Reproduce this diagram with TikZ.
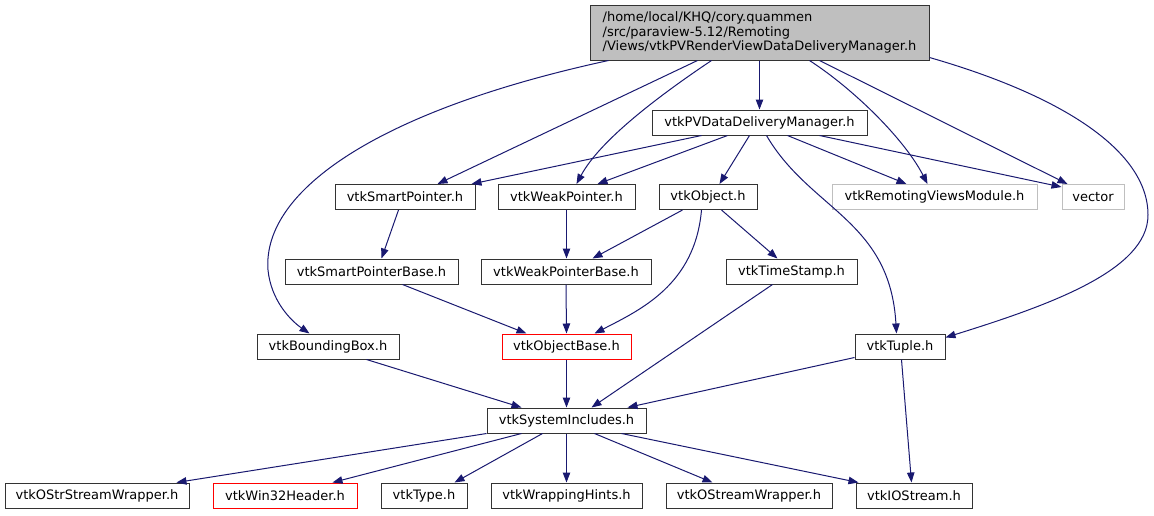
\documentclass[tikz,border=0pt]{standalone}
\usepackage{fontspec}
\setmainfont{DejaVu Sans}
\usetikzlibrary{arrows.meta,calc}
\definecolor{edgeblue}{HTML}{191970}
\definecolor{nodegrey}{HTML}{BFBFBF}
\definecolor{nodered}{HTML}{FF0000}
\definecolor{nodeborder}{HTML}{333333}
\begin{document}
\begin{tikzpicture}[x=0.75pt,y=-0.75pt,
  font=\fontsize{9.75}{10.9}\selectfont,
  box/.style={draw=nodeborder, line width=0.75pt, minimum height=18.75pt, inner sep=0pt, fill=white},
  greybox/.style={box, draw=nodegrey},
  redbox/.style={box, draw=nodered},
  edge/.style={draw=edgeblue, line width=0.75pt, -{Triangle[length=7.5pt,width=5.6pt]}}]
\useasboundingbox (0,0) rectangle (1154,515);
% nodes
\node[box, fill=nodegrey, minimum width=254.25pt, minimum height=41.25pt, align=left] (root) at (759.5,32.5)
  {/home/local/KHQ/cory.quammen\\/src/paraview-5.12/Remoting\\/Views/vtkPVRenderViewDataDeliveryManager.h};
\node[box, minimum width=161.25pt] (pvdm) at (759.5,122.5) {vtkPVDataDeliveryManager.h};
\node[box, minimum width=105pt] (sp) at (405,197) {vtkSmartPointer.h};
\node[box, minimum width=102.75pt] (wp) at (566.5,197) {vtkWeakPointer.h};
\node[box, minimum width=73.5pt] (obj) at (708,197) {vtkObject.h};
\node[greybox, minimum width=153.75pt] (rvm) at (934.5,197) {vtkRemotingViewsModule.h};
\node[greybox, minimum width=46.5pt] (vec) at (1093,197) {vector};
\node[box, minimum width=129.75pt] (spb) at (371.5,271.5) {vtkSmartPointerBase.h};
\node[box, minimum width=127.5pt] (wpb) at (566,271.5) {vtkWeakPointerBase.h};
\node[box, minimum width=98.25pt] (ts) at (791.5,271.5) {vtkTimeStamp.h};
\node[box, minimum width=106.5pt] (bb) at (328,346.5) {vtkBoundingBox.h};
\node[redbox, minimum width=96.75pt] (ob) at (566.5,346.5) {vtkObjectBase.h};
\node[box, minimum width=67.5pt] (tup) at (900,346.5) {vtkTuple.h};
\node[box, minimum width=119.25pt] (si) at (566.5,420.5) {vtkSystemIncludes.h};
\node[box, minimum width=138pt] (ostr) at (97,495.5) {vtkOStrStreamWrapper.h};
\node[redbox, minimum width=108pt] (win) at (285,495.5) {vtkWin32Header.h};
\node[box, minimum width=64.5pt] (type) at (424,495.5) {vtkType.h};
\node[box, minimum width=113.25pt] (wh) at (566.5,495.5) {vtkWrappingHints.h};
\node[box, minimum width=124.5pt] (osw) at (749,495.5) {vtkOStreamWrapper.h};
\node[box, minimum width=87pt] (ios) at (914,495.5) {vtkIOStream.h};
% edges from root
\draw[edge] (root.south) -- (pvdm.north);
\draw[edge] ($(root.south west)+(19,0)$) .. controls (380,110) and (262,190) .. (268,270)
  .. controls (271,300) and (290,320) .. ($(bb.north west)+(53,0)$);
\draw[edge] ($(root.south west)+(108,0)$) -- ($(sp.north west)+(103,0)$);
\draw[edge] ($(root.south west)+(122,0)$) .. controls (660,95) and (600,140) .. ($(wp.north west)+(79,0)$);
\draw[edge] ($(root.south west)+(220,0)$) .. controls (855,90) and (905,140) .. ($(rvm.north west)+(96,0)$);
\draw[edge] ($(root.south west)+(230,0)$) -- ($(vec.north west)+(6,0)$);
\draw[edge] ($(root.south east)+(0,-3)$) .. controls (1060,95) and (1148,150) .. (1148,215)
  .. controls (1148,270) and (1050,305) .. ($(tup.north east)+(0,4)$);
% edges from vtkPVDataDeliveryManager
\draw[edge] ($(pvdm.south west)+(50,0)$) -- ($(sp.north west)+(137,0)$);
\draw[edge] ($(pvdm.south west)+(76,0)$) -- ($(wp.north west)+(100,0)$);
\draw[edge] ($(pvdm.south west)+(98,0)$) -- ($(obj.north west)+(61,0)$);
\draw[edge] ($(pvdm.south west)+(115,0)$) .. controls (810,210) and (890,220) .. ($(tup.north west)+(42,0)$);
\draw[edge] ($(pvdm.south west)+(136,0)$) -- ($(rvm.north west)+(75,0)$);
\draw[edge] ($(pvdm.south west)+(168,0)$) -- ($(vec.north west)+(0,3)$);
% second level
\draw[edge] ($(sp.south west)+(64,0)$) -- ($(spb.north west)+(97,0)$);
\draw[edge] ($(wp.south west)+(69,0)$) -- ($(wpb.north west)+(86,0)$);
\draw[edge] ($(obj.south west)+(24,0)$) -- ($(wpb.north west)+(112,0)$);
\draw[edge] ($(obj.south west)+(43,0)$) .. controls (695,285) and (640,310) .. ($(ob.north west)+(93,0)$);
\draw[edge] ($(obj.south west)+(63,0)$) -- ($(ts.north west)+(52,0)$);
\draw[edge] ($(spb.south west)+(118,0)$) -- ($(ob.north west)+(25,0)$);
\draw[edge] (wpb.south) -- (ob.north);
\draw[edge] ($(ts.south west)+(47,0)$) -- ($(si.north west)+(105,0)$);
\draw[edge] ($(bb.south west)+(110,0)$) -- ($(si.north west)+(35,0)$);
\draw[edge] (ob.south) -- (si.north);
\draw[edge] ($(tup.south west)+(0,-2)$) -- ($(si.north west)+(141,0)$);
\draw[edge] ($(tup.south west)+(47,0)$) -- ($(ios.north west)+(56,0)$);
% from vtkSystemIncludes
\draw[edge] (si.south west) -- ($(ostr.north west)+(172,0)$);
\draw[edge] ($(si.south west)+(35,0)$) -- ($(win.north west)+(120,0)$);
\draw[edge] ($(si.south west)+(56,0)$) -- ($(type.north west)+(74,0)$);
\draw[edge] (si.south) -- (wh.north);
\draw[edge] ($(si.south west)+(108,0)$) -- ($(osw.north west)+(47,0)$);
\draw[edge] ($(si.south west)+(135,0)$) -- ($(ios.north west)+(3,0)$);
\end{tikzpicture}
\end{document}
